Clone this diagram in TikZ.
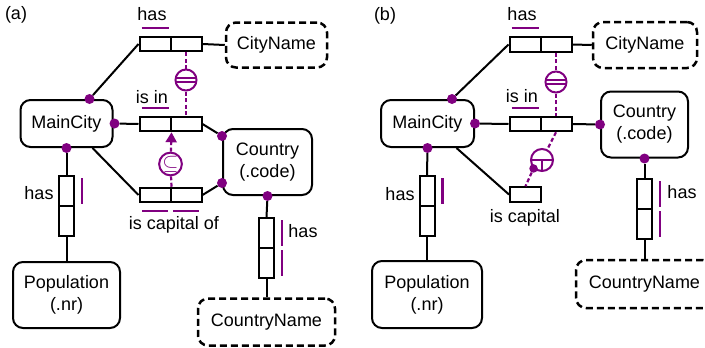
\documentclass[tikz,border=0pt]{standalone}
\usepackage{fontspec}
\setmainfont{Liberation Sans}
\usetikzlibrary{arrows.meta}
\definecolor{ormPurple}{RGB}{128,0,128}

\begin{document}
\begin{tikzpicture}
[x=1pt,y=-1pt,font=\fontsize{18}{22}\selectfont,%
  entityBox/.style={draw,line width=2pt,rounded corners=10pt,align=center,inner sep=0pt},%
  valueBox/.style={entityBox,line width=2.5pt,dash pattern=on 7pt off 4pt},%
  roleCell/.style={draw,line width=2pt,minimum width=31pt,minimum height=14.5pt,inner sep=0pt},%
  roleCellV/.style={roleCell,minimum width=15pt,minimum height=30pt},%
  purpleDot/.style={shape=circle,fill=ormPurple,inner sep=0pt,minimum size=10pt},%
  plainLine/.style={line width=2pt},%
  uniqBar/.style={line width=2.2pt,color=ormPurple},%
  constrLine/.style={line width=2.2pt,color=ormPurple,dash pattern=on 4pt off 2.5pt},%
  constrCircle/.style={shape=circle,draw=ormPurple,line width=2pt,fill=white,minimum size=21pt,inner sep=0pt,text=ormPurple},%
  eqSign/.style={constrCircle,path picture={
    \draw[ormPurple,line width=1.6pt]
      ([shift={(-11,-2)}]path picture bounding box.center) -- ([shift={(11,-2)}]path picture bounding box.center)
      ([shift={(-11,2)}]path picture bounding box.center) -- ([shift={(11,2)}]path picture bounding box.center);}},%
  teeSign/.style={constrCircle,minimum size=22pt,path picture={
    \draw[ormPurple,line width=1.6pt]
      ([shift={(-12,0)}]path picture bounding box.center) -- ([shift={(12,0)}]path picture bounding box.center)
      (path picture bounding box.center) -- ([shift={(0,12)}]path picture bounding box.center);}}]
\useasboundingbox (0,0) rectangle (705,348);
\clip (0,0) rectangle (705,348);
%% panel labels
\node (panelA) at (16,15) {(a)};
\node (panelB) at (385,16) {(b)};
%% entity and value types
\node[entityBox,minimum width=92pt,minimum height=47pt] (mainCityA) at (66.5,123.5) {MainCity};
\node[entityBox,minimum width=89pt,minimum height=66pt] (countryA) at (267.5,162) {Country\\(.code)};
\node[entityBox,minimum width=107pt,minimum height=66pt] (populationA) at (66.5,295) {Population\\(.nr)};
\node[valueBox,minimum width=101pt,minimum height=45pt] (cityNameA) at (276.5,45) {CityName};
\node[valueBox,minimum width=137pt,minimum height=47pt] (countryNameA) at (266.5,322) {CountryName};
\node[entityBox,minimum width=93pt,minimum height=47pt] (mainCityB) at (427.5,123.5) {MainCity};
\node[entityBox,minimum width=87pt,minimum height=66pt] (countryB) at (644.5,124.5) {Country\\(.code)};
\node[entityBox,minimum width=110pt,minimum height=67pt] (populationB) at (427,294.5) {Population\\(.nr)};
\node[valueBox,minimum width=104pt,minimum height=46pt] (cityNameB) at (645,45) {CityName};
\node[valueBox,minimum width=137pt,minimum height=48pt] (countryNameB) at (644.5,284) {CountryName};
%% role boxes
\foreach \cellname/\x/\y in {hasA1/155/44, hasA2/186/44, isinA1/155/124, isinA2/186/124,
  capA1/155/195, capA2/186/195, hasB1/525/44.5, hasB2/556/44.5,
  isinB1/525/124, isinB2/556/124, capB/525.5/194.5}
{
  \node[roleCell] (\cellname) at (\x,\y) {};
}
\foreach \cellname/\x/\y in {hasMA1/66.5/191, hasMA2/66.5/221, hasCA1/266.5/233, hasCA2/266.5/263,
  hasMB1/427/191, hasMB2/427/221, hasCB1/644.5/194, hasCB2/644.5/224}
{
  \node[roleCellV] (\cellname) at (\x,\y) {};
}
%% fact type names
\node (hasTopA) at (152,14) {has};
\node (isinLblA) at (152,97) {is in};
\node (capLblA) at (174,225) {is capital of};
\node (hasMainA) at (39,193) {has};
\node (hasCtyA) at (303,231) {has};
\node (hasTopB) at (522,14) {has};
\node (isinLblB) at (522,96) {is in};
\node (capLblB) at (525,218) {is capital};
\node (hasMainB) at (400,194) {has};
\node (hasCtyB) at (682,192) {has};
%% mandatory dots
\foreach \dotname/\base/\dx/\dy in {mcTopA/mainCityA.north/23/0, mcRightA/mainCityA.east/1/0,
  mcBotA/mainCityA.south/0/0, ctyUpA/countryA.north west/0/8, ctyLowA/countryA.south west/0/-13,
  ctyBotA/countryA.south/0/0, mcTopB/mainCityB.north/24.5/0, mcRightB/mainCityB.east/0/0,
  mcBotB/mainCityB.south/0/0, ctyLeftB/countryB.west/0/0, ctyBotB/countryB.south/0/0}
{
  \node[purpleDot] (\dotname) at ([shift={(\dx,\dy)}]\base) {};
}
\coordinate (mcCornerA) at ([shift={(26,0)}]mainCityA.south);
\coordinate (mcCornerB) at ([shift={(29,0)}]mainCityB.south);
%% connectors
\foreach \u/\v in {mcTopA/hasA1.west, hasA2.east/cityNameA.west, mcRightA/isinA1.west,
  isinA2.east/ctyUpA, mcCornerA/capA1.west, capA2.east/ctyLowA,
  mcBotA/hasMA1.north, hasMA2.south/populationA.north,
  ctyBotA/hasCA1.north, hasCA2.south/countryNameA.north,
  mcTopB/hasB1.west, hasB2.east/cityNameB.west, mcRightB/isinB1.west,
  isinB2.east/ctyLeftB, mcCornerB/capB.west,
  mcBotB/hasMB1.north, hasMB2.south/populationB.north,
  ctyBotB/hasCB1.north, hasCB2.south/countryNameB.north}
{
  \draw[plainLine] (\u) -- (\v);
}
%% uniqueness bars
\foreach \cellname in {hasA1, isinA1, hasB1, isinB1}
{
  \draw[uniqBar] ([shift={(3,-8)}]\cellname.north west) -- ([shift={(-3,-8)}]\cellname.north east);
}
\foreach \cellname in {capA1, capA2}
{
  \draw[uniqBar] ([shift={(3.5,8)}]\cellname.south west) -- ([shift={(-3.5,8)}]\cellname.south east);
}
\foreach \cellname in {hasMA1, hasCA1, hasCA2, hasMB1, hasCB1, hasCB2}
{
  \draw[uniqBar] ([shift={(7,3)}]\cellname.north east) -- ([shift={(7,-3)}]\cellname.south east);
}
%% constraints
\node[eqSign] (eqA) at (186,80) {};
\node[constrCircle,font=\fontsize{22}{22}\selectfont] (subA) at (170.5,164) {$\subseteq$};
\node[eqSign] (eqB) at (556,82) {};
\node[teeSign] (teeB) at (542,160) {};
\node[purpleDot,minimum size=8.5pt] (teeDotB) at (teeB.south west) {};
\draw[constrLine] (hasA2.south) -- (eqA) -- (isinA2.north);
\draw[constrLine] (capA1.north east) -- (subA);
\draw[constrLine,-{Triangle[length=10pt,width=11pt]}] (subA) -- (isinA1.south east);
\draw[constrLine] (hasB2.south) -- (eqB) -- (isinB2.north);
\draw[constrLine] (isinB2.south) -- (teeB);
\draw[constrLine] (teeDotB) -- (capB.north);
\end{tikzpicture}
\end{document}
